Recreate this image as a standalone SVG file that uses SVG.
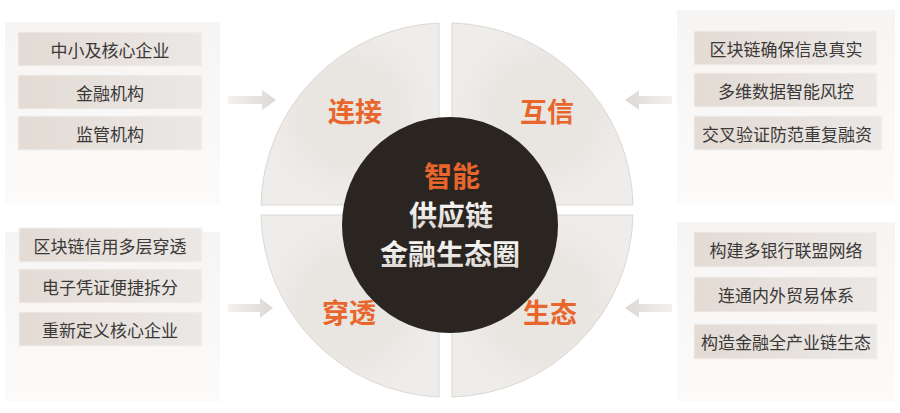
<svg xmlns="http://www.w3.org/2000/svg" width="900" height="413" viewBox="0 0 900 413">
<defs>
<linearGradient id="boxg" x1="0" y1="0" x2="1" y2="0">
<stop offset="0" stop-color="#e3dbd4"/>
<stop offset="1" stop-color="#ebe8e6"/>
</linearGradient>
<linearGradient id="panelg" x1="0" y1="0" x2="0" y2="1">
<stop offset="0" stop-color="#f7f5f3"/>
<stop offset="1" stop-color="#fcfbfa"/>
</linearGradient>
<linearGradient id="arrowR" x1="0" y1="0" x2="1" y2="0">
<stop offset="0" stop-color="#f3f1ef"/>
<stop offset="1" stop-color="#dcd8d4"/>
</linearGradient>
<linearGradient id="arrowL" x1="1" y1="0" x2="0" y2="0">
<stop offset="0" stop-color="#f3f1ef"/>
<stop offset="1" stop-color="#dcd8d4"/>
</linearGradient>
<radialGradient id="quadg" cx="0.5" cy="0.5" r="0.5">
<stop offset="0.5" stop-color="#e9e5e1"/>
<stop offset="1" stop-color="#efedeb"/>
</radialGradient>
<linearGradient id="whiteText" x1="0" y1="0" x2="0" y2="1">
<stop offset="0" stop-color="#ffffff"/>
<stop offset="1" stop-color="#d8d2cc"/>
</linearGradient>
</defs>
<style>
.panel{fill:url(#panelg)}
.box{fill:url(#boxg);stroke:#f4f2f0;stroke-width:1}
.bt{font-family:"Noto Sans CJK SC","Noto Sans",sans-serif;font-size:17px;fill:#3b3838;text-anchor:middle;dominant-baseline:central}
.quad{fill:url(#quadg);stroke:#dcd7d2;stroke-width:1}
.ql{font-family:"Noto Sans CJK SC",sans-serif;font-weight:bold;font-size:27px;fill:#e8652b;text-anchor:middle;dominant-baseline:central}
.ct{font-family:"Noto Sans CJK SC",sans-serif;font-weight:bold;font-size:28px;text-anchor:middle;dominant-baseline:central}
</style>
<rect width="900" height="413" fill="#ffffff"/>

<g id="panels">
<rect class="panel" x="5" y="22" width="215" height="183"/>
<rect class="panel" x="5" y="232" width="215" height="170"/>
<rect class="panel" x="677" y="10" width="218" height="195"/>
<rect class="panel" x="677" y="222" width="218" height="180"/>
</g>

<g id="connectors">
<path d="M228,96 H262 V90 L276,100 L262,110 V104 H228 Z" fill="url(#arrowR)"/>
<path d="M228,304 H260 V298 L273,308 L260,318 V312 H228 Z" fill="url(#arrowR)"/>
<path d="M672,96 H639 V90 L625,100 L639,110 V104 H672 Z" fill="url(#arrowL)"/>
<path d="M672,304 H639 V298 L625,308 L639,318 V312 H672 Z" fill="url(#arrowL)"/>
</g>

<g id="node-tl1"><rect class="box" x="18" y="32" width="184" height="34"/><text class="bt" x="110" y="49">中小及核心企业</text></g>
<g id="node-tl2"><rect class="box" x="18" y="75" width="184" height="34"/><text class="bt" x="110" y="92">金融机构</text></g>
<g id="node-tl3"><rect class="box" x="18" y="116" width="184" height="34"/><text class="bt" x="110" y="133">监管机构</text></g>

<g id="node-bl1"><rect class="box" x="19" y="228" width="183" height="34"/><text class="bt" x="110" y="245">区块链信用多层穿透</text></g>
<g id="node-bl2"><rect class="box" x="19" y="269" width="183" height="34"/><text class="bt" x="110" y="286">电子凭证便捷拆分</text></g>
<g id="node-bl3"><rect class="box" x="19" y="312" width="183" height="34"/><text class="bt" x="110" y="329">重新定义核心企业</text></g>

<g id="node-tr1"><rect class="box" x="694" y="31" width="183" height="34"/><text class="bt" x="786" y="48">区块链确保信息真实</text></g>
<g id="node-tr2"><rect class="box" x="694" y="73" width="183" height="34"/><text class="bt" x="786" y="90">多维数据智能风控</text></g>
<g id="node-tr3"><rect class="box" x="694" y="116" width="188" height="34"/><text class="bt" x="787" y="133">交叉验证防范重复融资</text></g>

<g id="node-br1"><rect class="box" x="694" y="232" width="183" height="35"/><text class="bt" x="786" y="249">构建多银行联盟网络</text></g>
<g id="node-br2"><rect class="box" x="694" y="277" width="183" height="35"/><text class="bt" x="786" y="294">连通内外贸易体系</text></g>
<g id="node-br3"><rect class="box" x="694" y="324" width="183" height="35"/><text class="bt" x="786" y="341">构造金融全产业链生态</text></g>

<g id="ring">
<g id="q-tl"><path class="quad" d="M439,205 H261 A186,186 0 0 1 439,23 Z"/><text class="ql" x="355" y="110">连接</text></g>
<g id="q-tr"><path class="quad" d="M452,205 V23 A186,186 0 0 1 633,205 Z"/><text class="ql" x="547" y="110">互信</text></g>
<g id="q-bl"><path class="quad" d="M439,215 V397 A186,186 0 0 1 261,215 Z"/><text class="ql" x="349" y="311">穿透</text></g>
<g id="q-br"><path class="quad" d="M452,215 H633 A186,186 0 0 1 452,397 Z"/><text class="ql" x="550" y="311">生态</text></g>
</g>

<g id="center">
<circle cx="450" cy="225" r="108" fill="#2b2522"/>
<text class="ct" x="452" y="175" fill="#e8652b">智能</text>
<text class="ct" x="451" y="214" fill="url(#whiteText)">供应链</text>
<text class="ct" x="450" y="253" fill="url(#whiteText)">金融生态圈</text>
</g>
</svg>
